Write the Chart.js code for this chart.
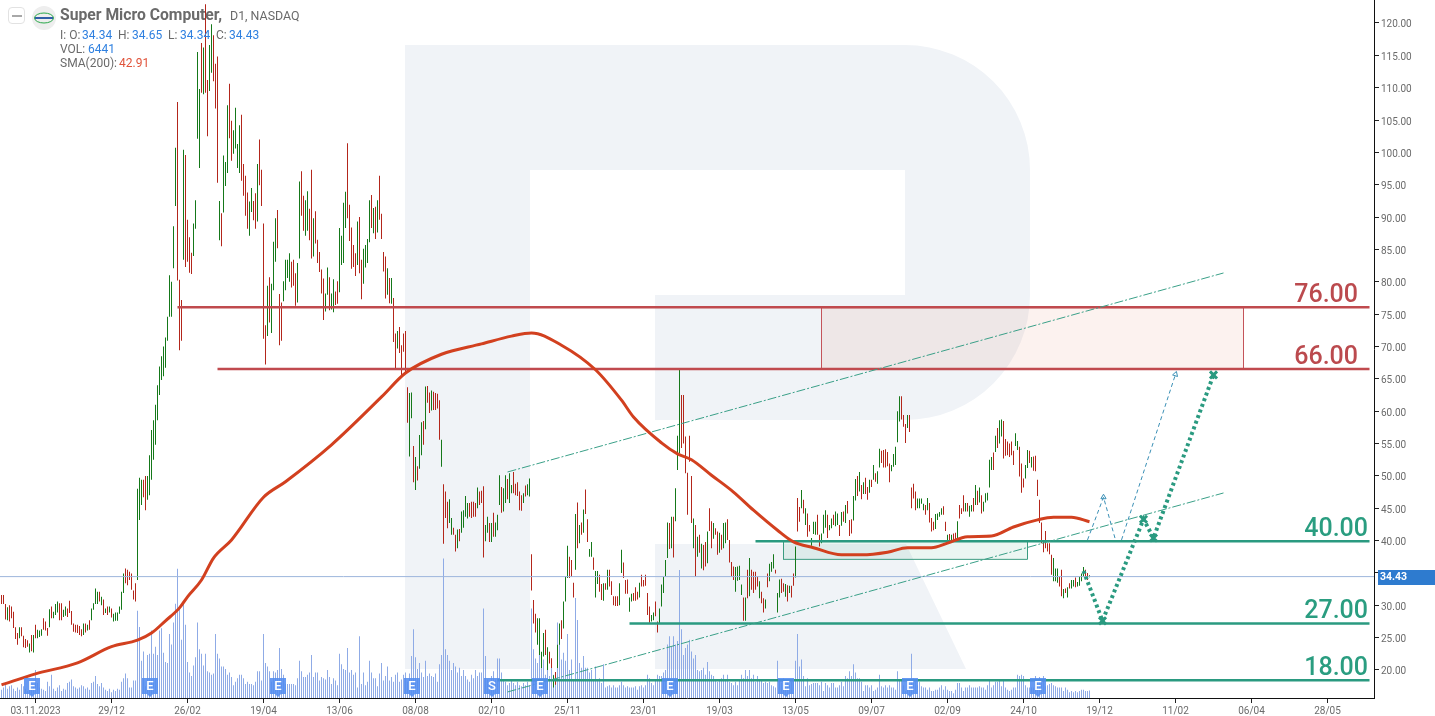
<!DOCTYPE html>
<html>
<head>
<meta charset="utf-8">
<title>Super Micro Computer, D1, NASDAQ</title>
<script src="https://cdn.jsdelivr.net/npm/chart.js@4/dist/chart.umd.js"></script>
<style>
html,body{margin:0;padding:0;background:#fff;width:1435px;height:716px;overflow:hidden}
#wrap{position:relative;width:1435px;height:716px;font-family:Roboto,sans-serif;color:#6a6a6a}
canvas{position:absolute;left:0;top:0}
.t{position:absolute;white-space:nowrap;font-size:12px;line-height:14px}
.v{color:#2f80e0}.s{color:#e0533a}
#btn{position:absolute;left:8px;top:7px;width:15px;height:15px;border:1px solid #e2e2e2;border-radius:4px;background:#fff}
#btn i{position:absolute;left:3px;top:7px;width:10px;height:2px;background:#a8a8a8}
#logo{position:absolute;left:32px;top:6px}
</style>
</head>
<body>
<div id="wrap">
<canvas id="c" width="1435" height="716"></canvas>
<div id="btn"><i></i></div>
<svg id="logo" width="24" height="24"><circle cx="12" cy="12" r="12" fill="#eeeeee"/><ellipse cx="12" cy="12" rx="9.5" ry="5" fill="none" stroke="#2aa84a" stroke-width="1"/><rect x="3" y="11" width="18" height="2" fill="#2f5fa8"/></svg>
<div class="t" style="left:60px;top:8px;font-size:15.7px;font-weight:700">Super Micro Computer,</div>
<div class="t" style="left:230px;top:9px;font-size:12.4px">D1, NASDAQ</div>
<div class="t" style="left:60px;top:28px">I: O:</div><div class="t v" style="left:82px;top:28px">34.34</div>
<div class="t" style="left:118px;top:28px">H:</div><div class="t v" style="left:132px;top:28px">34.65</div>
<div class="t" style="left:168px;top:28px">L:</div><div class="t v" style="left:180px;top:28px">34.34</div>
<div class="t" style="left:216px;top:28px">C:</div><div class="t v" style="left:229px;top:28px">34.43</div>
<div class="t" style="left:60px;top:42px">VOL:</div><div class="t v" style="left:88px;top:42px">6441</div>
<div class="t" style="left:60px;top:56px">SMA(200):</div><div class="t s" style="left:119px;top:56px">42.91</div>
</div>
<script>
const tickIndex=[17,55,93,131,169,207,245,283,321,359,397,435,473,511,549,587,625,663];
const tickLabels=['03.11.2023','29/12','26/02','19/04','13/06','08/08','02/10','25/11','23/01','19/03','13/05','09/07','02/09','24/10','19/12','11/02','06/04','28/05'];

const highs=[
31.6,31.6,30.2,29.7,30,29.8,29,26.6,25.7,26.6,
26.6,25.3,24.8,24.6,24.1,25.4,25.4,27,26.2,26.1,
26.3,28,27.5,26.5,29.4,29.8,29,30.2,30.6,30.3,
30.3,29.3,29.8,29.5,30.7,29.1,27.2,27,27,26.8,
26.3,27.2,27.2,27,27.7,29.5,30.3,32.6,32.1,32.1,
31.3,30.9,29.5,29.8,29.8,29.5,28.7,28.9,28.9,29.8,
32.1,34.9,35.7,35.5,35.2,34.9,32.3,33.4,48,49.7,
49.4,49.4,50,50,53.2,57.1,58.6,61,64,66.9,
68.5,70,71.4,74.6,81,80,88.6,100.7,107.8,80.3,
77.2,100.4,99.6,89.6,86.9,84.5,89,92.6,115.5,109.8,
116.9,116.2,122.9,111.2,116.6,119.8,118.1,113.7,114.8,92.5,
90.6,99.5,98.5,107.3,110.6,104.9,103.4,106.9,101.3,104.2,
105.8,98.2,96.4,93.8,92.4,94.5,92.5,93.7,98.2,102,
97.3,89,73.3,79.4,80.7,79.7,86.2,89.8,91.1,78.1,
76.8,80.1,83.4,83.4,84.4,83.1,83.4,81.3,82.9,95.5,
97.1,93.3,92.6,94,91.3,97.3,89.8,90.9,86.5,84.6,
81.9,80.5,78.2,82.2,80.7,78.2,80.4,78.5,80.1,88.3,
87.1,92.2,93.9,101.4,91.9,88.4,85.7,84.4,89.3,90,
83.4,85.1,85.7,86.6,92.6,93.4,91.4,91.6,92.6,96.4,
90.5,84.6,83.9,82.1,80.6,80.6,77.5,72,72.4,73,
70.2,72,72.4,63.7,62.8,62.9,54.6,52.9,51.5,56.3,
58.3,58.5,63.8,63.9,62.9,63.2,63,62.8,62.7,61.7,
55.6,48.7,47.6,46,46.4,43.5,42,40.9,41.7,41.8,
44.5,44.7,46.9,45.8,45.8,46,46,45.8,48.2,47.6,
47.7,48.4,42.4,43.7,42.7,42.7,44.3,42.8,44,50.1,
48.3,48.1,50.1,49.5,50.4,48.6,50.6,48.8,49,47.6,
47,47.3,48.5,48.7,49.6,37.9,30.8,28.7,28,28,
22.8,25.7,26.2,23.5,22.8,21.8,19.2,19.7,23.9,27.2,
27.7,30.6,34.4,39.2,37.5,37,33.5,44.1,45.9,42.4,
42.8,44.8,47.9,43.3,38.7,39.8,37.4,35.3,35.3,34.7,
33.3,33.4,33.4,35.5,35.5,33.7,31.4,31.4,31.4,33.4,
38.6,36.6,33.9,34,31.2,31.8,31.9,32.8,32.1,33.5,
34.7,33.9,34.7,31.9,29.8,28.5,28.9,30.6,27.5,29.5,
33.2,34.4,37,42.8,42.7,43.7,43.7,48.1,56.2,66.4,
62.5,62.5,56.1,50.5,56.2,50,43.4,42.4,40.6,40.9,
39.5,39.3,39.8,41.4,45,43,42.7,41.9,41.4,41.2,
40.9,42.7,42.8,43.3,40.1,36.7,36,35.9,36,36.1,
33.2,31.2,31.2,35.5,37.3,35.5,35.2,35.2,34.4,33.7,
32.1,31.1,30.9,34.9,36.4,36.7,37.9,35.5,31.9,34,
34.1,33.4,33.3,33.1,33,33,34.9,39.1,46.6,45.2,
47.8,46.3,45,44.2,42.4,40.4,42.9,42.9,44,40.9,
41.1,44,44.7,44,42.4,43.4,44,44.5,44.2,42.4,
44.4,44.5,45.5,46.1,43.2,43.3,46.9,49.5,50,50.6,
48.6,49,49.7,48.3,49.4,49.4,51.7,50.4,50.7,54.2,
53.9,54,54.1,53.7,51.9,51.7,53.4,54.5,60,62.3,
62.3,59.4,58,59.4,59.4,48.2,48.8,47.6,46.5,46.5,
46.5,45.7,45.5,46.6,45.8,43.5,42.9,44.1,44.2,44.4,
45,45.3,42.9,40.9,41,40.9,41.1,41.2,43,45.5,
45,47,45.8,45.8,45.4,45.5,46.6,48.6,47.7,48.2,
47,46,47.3,47.4,52.5,52.9,53.6,56.2,57.4,58.6,
58.7,58.5,55.7,55.3,55,55.3,53.9,56.6,55.4,54.5,
51.9,49.6,51.7,54,53.9,52.9,53,53.1,49.4,46.3,
42.8,40,41.5,39.6,39.6,37.8,37.3,35.7,35.7,34.4,
35.5,32.5,32.6,32.8,33.4,33.9,33.9,34.3,33.6,34.4,
34.9,35.9,35.5,35,34.65];

const lows=[
30.2,30.2,27.8,27.7,27.5,28,26.5,24.8,23.9,24.9,
25.2,23.5,23.4,23.6,22.7,22.9,22.7,24.9,24.9,25.1,
25.3,26.2,26.1,25.3,26.6,28,28,28.5,28.9,27.7,
27.7,28.2,28.4,28.2,28.8,27,25.9,25.8,25.7,25.4,
25.2,25.4,25.8,26.1,26.2,27.7,29.3,30.2,30.2,30.6,
30,28.5,28.8,28.5,28.9,28.1,27.5,27.6,27.6,28.7,
29.3,31.9,33.4,33.1,33.9,32.4,30.9,30.6,33.9,43.2,
45.5,46.7,44.7,46.3,47,49.4,52.5,54.8,58.6,62.5,
64.8,65.4,66.7,70.9,74.6,74.6,82.1,91.7,80.2,69.4,
70.9,83.4,82.3,83.1,81.4,81.2,84,88.2,102.1,97.6,
109.2,109,109.2,102.5,109.5,112.3,111,106.8,95.3,86.4,
85.5,90.7,94.8,96.8,102.2,98.7,99.8,100.6,97.6,96.8,
95.6,93.3,90.2,88.2,87.1,90.8,89.5,88.2,89.3,94.9,
91.7,71.2,67.2,71.6,73.7,72.1,78.7,83.1,85.2,70.2,
70.9,77,78.7,80.6,80,79.1,79.4,76.3,76.8,83.6,
90.2,87.9,87.1,87.9,86.4,83.6,83.9,85.9,82.9,81.5,
78.2,74.1,75.4,78,75.6,75.7,75.3,76.4,76.6,78.4,
82.6,82.9,88.3,89.8,86.3,82,82.3,80.9,82.6,81.3,
77.3,79.7,82.2,82.9,86.1,88.3,87.5,86.6,87.6,89.6,
86.6,81.6,77.4,78,76.7,76.6,70.7,66.5,69.7,69,
65.6,69.2,65.9,58.2,53,58.9,49,47.8,49.3,51.1,
53.2,54.8,57.2,61.3,59.7,60.1,60.2,60.2,60.4,55.6,
51.4,39.5,43.5,41.9,42.7,40.9,40.9,38.3,38.8,39.9,
41.2,42,43.7,43.4,43.7,43.5,43.7,43.7,45,45.5,
45.8,37.4,39.9,41.2,39.8,39.8,40.6,40.6,41.6,45.5,
44.3,44.5,45.8,46.4,45.8,47.3,47.3,47,46.9,44.7,
44.6,45.8,46.8,47,46.8,32.3,27.2,25.8,23.9,22.3,
20.3,22.1,22.3,20,21,20.3,17.3,17.7,20.3,23.9,
24.8,26.4,30.6,34.2,34.2,34.4,31.2,35.5,38.8,39.6,
40.9,41.2,44.1,39.8,37.5,37.5,35.5,31.2,33.3,32.1,
30.8,30.7,32.4,32.4,32.9,31.6,30,29.9,29.9,30,
35,34.2,31.8,31.8,29,30.6,30.7,30.7,30.9,31.2,
32.9,32.9,33,28.5,27.3,27.5,27.7,28.3,25.8,27.2,
29.8,31.9,34.4,37.3,38.7,38.8,37.4,43,50.9,53.5,
54.3,55,50.4,44,52.2,42.7,38.8,34.4,37.5,38.1,
35.7,35.4,36,36.5,41.5,38.8,40.3,40.9,37.8,38.1,
38.6,38.8,39.6,40.1,36.6,34.5,33.9,32.1,33.8,33.9,
31.6,27.6,27.6,31.1,31.4,32.4,31.9,32.4,32.9,31.1,
30.3,28.9,29.5,32.8,33.7,35.2,35.7,34.9,28.9,31.2,
31.9,32.1,31.3,30.6,31.9,31.2,33,34.3,41.4,42.9,
45,44.2,42.4,40.6,41.4,39.2,41,40.9,40.9,39.1,
39.6,41.1,42,40.4,41.6,41.9,42.4,42.2,42.4,40.7,
42.3,42.9,42.7,44.2,40.7,41.1,43.1,46.2,46.9,47.6,
46.4,47.2,47.2,46.3,47.4,48.3,49.4,49.1,48.8,51.3,
52,51.3,51.3,51.5,49,50.7,51.4,51.7,55.2,58.4,
58.7,57.6,55.1,57.4,56.8,45,46.5,44.7,45,45,
45.7,44.7,44,44.7,42.8,41.4,41.6,41.8,43.2,43.7,
44,44,41.5,39.6,39.8,39.7,40.1,40.1,40.1,43.4,
44.1,44.5,44.5,44.5,43.7,44.5,44.5,45.5,45.5,45.9,
44.2,44.5,45.9,46.2,48.2,50.9,50.9,53.7,54.3,55,
56.1,52.7,53.1,53.2,52.9,53.2,51.7,54.6,54,49.9,
47.4,48.2,49.6,51.2,52,51.3,50.8,50.7,46.9,42.7,
39.6,38.2,38.8,38.3,37.9,34.7,33.7,33.7,33.5,32.9,
31.4,31.1,31.9,31.2,32.6,32.6,32.9,32.8,32.9,33,
33.7,34.4,34.4,33.9,34.34];

const directions=(
'RRRGRRRRRG'+'RRRRGRGRGG'+'GRRRGRGGGR'+'RGGRRRRRRR'+'RGRGRGGGGR'+'GRGRGRGGGG'+'GGRRRRRRGG'+'GRRGGGGGGG'+
'GGGGGGGGRR'+'RGRRRRGGGG'+'RGRRGGRRRG'+'RGGGRRGGGG'+'RRRRGGRRGR'+'RRRGRGGGRR'+'RGGGGRRRGG'+'RRGGRRGRRR'+
'RRGGRGGRRG'+'GGGRRRRRGR'+'RGGGGRGRGR'+'RRRGRGRRGR'+'RRRRGGRGRG'+'GRGRRGRRRR'+'GRRRGGRRGR'+'GGGGRRRRGR'+
'RRGGRGRGGG'+'RGGRGGRRRR'+'RGRGGRRRGG'+'GGRGRRGRGG'+'RGGGRRRGRG'+'RGRRGGRGGR'+'RGRGRRRRRG'+'GRRRGGRRRG'+
'RRRRRGGRRG'+'GGGGRGRGGG'+'RRRRRRGRGR'+'GRRGRRGRRG'+'RGGRRRRGGG'+'GRGRGRRRRG'+'RRGRGGGRGG'+'RRGRGRRGRR'+
'GRGRRGGGRR'+'GGGRGGRGGR'+'GRGRRRGGRG'+'RGRRGRGRGG'+'RRRRRGGGGG'+'RRRGRRRRGG'+'GGRGRRRGGG'+'GRRGRGRRGR'+
'RRGRGGRGRG'+'RGGGGGRGRG'+'GRRRRRRGGR'+'RRGGRGRRRR'+'RRRRRRGGGR'+'RGRGRGGRGG'+'GGRRG').split('');

const volumes=[
7,9,12,8,10,11,8,6,9,7,12,10,8,6,9,7,11,24,13,9,
8,7,6,14,10,20,8,6,9,11,6,8,7,13,14,16,10,9,8,9,
11,10,8,9,7,13,14,19,12,10,13,9,7,6,8,5,7,6,8,7,
14,17,21,17,9,9,15,15,75,61,32,40,10,37,38,58,38,44,37,58,
60,39,31,30,55,46,65,81,111,77,50,83,63,31,22,19,28,35,65,42,
38,28,38,23,22,20,21,55,38,34,27,27,25,20,22,18,11,14,17,20,
20,17,12,14,12,12,11,14,23,23,15,55,30,27,23,14,23,22,24,43,
25,20,12,12,12,12,12,11,17,32,23,18,18,20,22,37,18,22,22,15,
18,17,16,24,18,12,17,15,11,38,29,25,24,43,22,24,20,22,9,53,
12,22,11,14,32,22,17,17,10,21,30,15,19,27,15,18,14,20,22,14,
16,20,22,14,21,36,59,35,25,30,22,18,32,19,21,19,18,21,14,29,
37,120,42,37,32,24,30,27,22,26,19,24,19,16,14,20,17,24,19,22,
22,77,36,16,14,19,23,16,34,34,22,16,14,11,13,16,13,11,14,11,
10,13,11,14,11,77,42,34,30,39,26,33,20,27,19,26,20,19,65,56,
33,39,32,55,24,33,16,86,67,30,26,36,26,26,22,24,16,27,16,17,
13,29,9,10,11,9,11,9,9,11,14,11,9,10,9,9,9,10,7,10,
11,9,11,20,17,13,11,16,20,19,19,22,24,46,53,44,53,46,49,110,
59,37,43,46,50,40,34,37,24,23,24,26,20,31,23,20,19,16,14,16,
17,20,16,20,14,13,11,14,11,16,20,17,24,19,24,17,20,14,19,16,
16,13,14,13,14,11,10,9,32,16,13,17,11,16,11,14,16,32,55,27,
33,19,10,17,11,12,13,13,13,11,14,6,13,11,9,13,13,9,9,11,
14,10,19,17,23,19,29,22,17,17,14,6,11,11,9,11,6,7,9,20,
10,9,11,9,11,9,9,7,23,16,16,11,6,9,7,38,17,14,11,14,
10,9,9,7,9,6,6,7,7,9,11,7,10,7,6,6,4,7,13,13,
9,6,9,9,11,9,9,9,9,10,9,9,7,11,16,9,11,14,14,16,
10,16,9,7,6,7,9,9,20,19,20,19,11,9,9,9,9,19,16,18,
14,19,10,11,12,13,11,10,9,9,9,6,9,7,5,6,5,6,5,6,7,7,6,6,6.441];

const smaIndex=[0,17,38,55,68,75,82,89,93,100,106,115,131,142,165,190,202,220,240,255,265,280,297,310,316,330,338,345,355,366,376,388,396,406,420,430,443,453,465,473,483,495,506,518,526,535,544];
const smaValues=[17.7,19.4,21.1,23.6,24.6,25.7,27.6,29.6,31.3,33.9,37.3,40.1,46.7,49.1,54.8,62.2,65.9,68.8,70.4,71.6,72.1,70.2,66.4,61.7,59.1,55.1,53.4,52.5,50.1,47.5,44.7,41.6,39.8,38.9,37.8,37.8,38.2,38.9,38.9,39.6,40.6,40.7,42.1,43.2,43.6,43.6,42.91];

const levelValues=[76.05,66.5,39.9,27.2,18.4];
const levelStart=[88,108,377,314,248];
const levelEnd=684;
const levelLabels=['76.00','66.00','40.00','27.00','18.00'];

const channelIndex=[253,611];
const channelUpper=[50.6,81.36];
const channelLower=[16.6,47.36];

const zoneRedIndex=[410,621];
const zoneRedPrice=[66.5,76];
const zoneGreenIndex=[391,513];
const zoneGreenPrice=[37.1,40];

const mainPathIndex=[541,550.5,571,576,606];
const mainPathPrice=[35.3,27.6,43.3,40.4,65.6];
const altPathAIndex=[543,551,557];
const altPathAPrice=[40.1,46.7,40.1];
const altPathBIndex=[560,587];
const altPathBPrice=[40.1,65.7];

const eventIndex=[15,74,138,205,245,269,334,392,454,518];
const eventLabels=['E','E','E','E','S','E','E','E','E','E'];
const lastClose=34.43;

Chart.defaults.font.family='Roboto, sans-serif';
Chart.defaults.font.size=10;
Chart.defaults.color='#6b6b6b';

const GREEN='#15781a',RED='#b3261b',TEAL='#2a9a80',CRIM='#c04a4e';
const zip=(xs,ys)=>xs.map((x,i)=>({x,y:ys[i]}));
const rect=(xs,ys)=>[{x:xs[0],y:ys[0]},{x:xs[1],y:ys[0]},{x:xs[1],y:ys[1]},{x:xs[0],y:ys[1]},{x:xs[0],y:ys[0]}];
const lineBase={type:'line',yAxisID:'y',pointRadius:0,pointHoverRadius:0,tension:0,fill:false};

const datasets=[
 {type:'bar',yAxisID:'yVol',data:volumes.map((v,i)=>({x:i,y:v})),backgroundColor:'#8fabe6',barThickness:1,inflateAmount:0,grouped:false,order:90},
 {type:'bar',yAxisID:'y',data:highs.map((h,i)=>({x:i,y:[lows[i],h]})),backgroundColor:directions.map(d=>d==='G'?GREEN:RED),barThickness:1,inflateAmount:0,grouped:false,order:70},
 {...lineBase,data:rect(zoneRedIndex,zoneRedPrice),borderColor:'#c4545a',borderWidth:1,backgroundColor:'rgba(225,110,80,0.09)',fill:'shape',order:85},
 {...lineBase,data:rect(zoneGreenIndex,zoneGreenPrice),borderColor:'#3a9b80',borderWidth:1,backgroundColor:'rgba(60,165,125,0.10)',fill:'shape',order:85},
 {...lineBase,data:[{x:-0.75,y:lastClose},{x:686.25,y:lastClose}],borderColor:'#9db6dc',borderWidth:1,order:60},
 {...lineBase,data:zip(smaIndex,smaValues),borderColor:'#d2401f',borderWidth:3,cubicInterpolationMode:'monotone',order:40},
 ...levelValues.map((v,k)=>({...lineBase,data:[{x:levelStart[k],y:v},{x:levelEnd,y:v}],borderColor:k<2?CRIM:TEAL,borderWidth:2.5,order:50})),
 {...lineBase,data:zip(channelIndex,channelUpper),borderColor:'#3aa088',borderWidth:1,borderDash:[9,2,2,2],order:45},
 {...lineBase,data:zip(channelIndex,channelLower),borderColor:'#3aa088',borderWidth:1,borderDash:[9,2,2,2],order:45},
 {...lineBase,data:zip(altPathAIndex,altPathAPrice),borderColor:'#3a8fb5',borderWidth:1,borderDash:[4,3],pointRadius:[0,3,0],pointStyle:'triangle',pointBorderColor:'#3a8fb5',pointBackgroundColor:'rgba(255,255,255,0)',pointBorderWidth:1,order:30},
 {...lineBase,data:zip(altPathBIndex,altPathBPrice),borderColor:'#3a8fb5',borderWidth:1,borderDash:[4,3],pointRadius:[0,3],pointStyle:'triangle',pointRotation:18,pointBorderColor:'#3a8fb5',pointBackgroundColor:'rgba(255,255,255,0)',pointBorderWidth:1,order:30},
 {...lineBase,data:zip(mainPathIndex,mainPathPrice),borderColor:TEAL,borderWidth:4,borderDash:[3,3],pointRadius:[0,5,5,5,5],pointStyle:'crossRot',pointBorderColor:TEAL,pointBorderWidth:3,order:20}
];

const watermark={id:'watermark',beforeDatasetsDraw(ch){
 const c=ch.ctx;c.save();c.fillStyle='#f0f3f7';
 c.beginPath();
 c.moveTo(405,45);c.lineTo(905,45);c.arcTo(1030,45,1030,170,125);c.lineTo(1030,295);c.arcTo(1030,420,905,420,125);
 c.lineTo(655,420);c.lineTo(655,295);c.lineTo(905,295);c.lineTo(905,170);c.lineTo(530,170);c.lineTo(530,669);c.lineTo(405,669);c.closePath();c.fill();
 c.beginPath();c.moveTo(655,544);c.lineTo(906,544);c.lineTo(966,669);c.lineTo(655,669);c.closePath();c.fill();
 c.restore();
}};

const overlay={id:'overlay',afterDraw(ch){
 const c=ch.ctx,x=ch.scales.x,y=ch.scales.y;
 c.save();
 c.textBaseline='middle';c.textAlign='right';c.font='500 25px Roboto, sans-serif';
 levelValues.forEach((v,k)=>{
  c.fillStyle=k<2?'#bb4a4e':'#2a9d80';
  c.fillText(levelLabels[k],k<2?1358:1368,y.getPixelForValue(v)-11.5);
 });
 c.font='500 13px Roboto, sans-serif';c.textAlign='center';
 eventIndex.forEach((ix,k)=>{
  const cx=Math.round(x.getPixelForValue(ix));
  c.fillStyle='rgba(82,140,240,0.88)';
  c.beginPath();c.moveTo(cx-8,678);c.lineTo(cx+8,678);c.lineTo(cx+8,694);c.lineTo(cx+3,694);c.lineTo(cx,697);c.lineTo(cx-3,694);c.lineTo(cx-8,694);c.closePath();c.fill();
  c.fillStyle='#fff';c.fillText(eventLabels[k],cx,686.5);
 });
 const ty=Math.round(y.getPixelForValue(lastClose));
 c.fillStyle='#2e7bcf';c.fillRect(1378,ty-7,57,15);
 c.fillStyle='#fff';c.font='700 10.5px Roboto, sans-serif';c.textAlign='left';
 c.fillText(lastClose.toFixed(2),1380,ty+0.5);
 c.restore();
}};

new Chart(document.getElementById('c'),{
 type:'bar',
 data:{datasets},
 plugins:[watermark,overlay],
 options:{
  responsive:false,animation:false,events:[],
  layout:{padding:0,autoPadding:false},
  plugins:{legend:{display:false},tooltip:{enabled:false}},
  scales:{
   x:{type:'linear',min:-0.75,max:686.25,offset:false,
    afterBuildTicks(s){s.ticks=tickIndex.map(v=>({value:v}));},
    afterFit(s){s.height=18;s.paddingLeft=0;s.paddingRight=0;},
    grid:{display:true,offset:false,drawOnChartArea:false,drawTicks:true,tickLength:5,color:'#222'},
    border:{display:true,color:'#111'},
    ticks:{autoSkip:false,maxRotation:0,minRotation:0,padding:2,includeBounds:false,callback:(v,i)=>tickLabels[i],color:'#6b6b6b',font:{size:10}}},
   y:{type:'linear',position:'right',min:15.67,max:123.55,
    afterFit(s){s.width=61;s.paddingTop=0;s.paddingBottom=0;},
    grid:{display:true,drawOnChartArea:false,drawTicks:true,tickLength:5,color:'#222'},
    border:{display:true,color:'#111'},
    ticks:{stepSize:5,includeBounds:false,padding:2,labelOffset:2,callback:v=>Number(v)===35?'':Number(v).toFixed(2),color:'#6b6b6b',font:{size:10}}},
   yVol:{type:'linear',display:false,min:0,max:600,position:'left'}
  }
 }
});
</script>
</body>
</html>
